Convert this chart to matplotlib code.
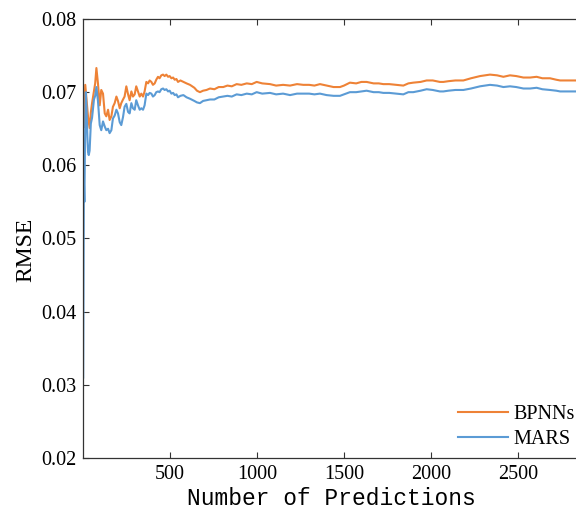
import matplotlib
matplotlib.use("Agg")
import matplotlib.pyplot as plt

# BPNNs (orange)
bp_x = [1, 6, 13, 20, 29, 38, 45, 52, 63, 70, 77, 86, 96, 105, 115, 125, 134, 144, 153, 163,
        172, 182, 192, 201, 211, 220, 230, 239, 249, 259, 268, 278, 287, 297, 306, 316, 326, 335,
        345, 354, 364, 374, 383, 393, 402, 412, 421, 431, 440, 450, 460, 469, 479, 489, 498, 508,
        518, 527, 537, 546, 560, 577, 595, 615, 640, 655, 672, 690, 710, 730, 755, 780, 806, 830,
        855, 883, 910, 941, 970, 998, 1030, 1075, 1110, 1150, 1190, 1230, 1266, 1300, 1330, 1362,
        1400, 1440, 1477, 1500, 1534, 1570, 1600, 1630, 1670, 1700, 1726, 1760, 1800, 1841, 1870,
        1898, 1940, 1975, 2010, 2051, 2071, 2100, 2140, 2186, 2230, 2282, 2310, 2339, 2380, 2416,
        2454, 2490, 2531, 2570, 2607, 2640, 2684, 2720, 2742, 2780, 2810, 2840]
bp_y = [0.0680, 0.0652, 0.0710, 0.0690, 0.0666, 0.0651, 0.0672, 0.0685, 0.0701, 0.0712, 0.0733,
        0.0712, 0.0682, 0.0703, 0.0698, 0.0671, 0.0667, 0.0676, 0.0662, 0.0667, 0.0680, 0.0685,
        0.0694, 0.0688, 0.0678, 0.0685, 0.0690, 0.0694, 0.0708, 0.0697, 0.0689, 0.0701, 0.0694,
        0.0697, 0.0708, 0.0701, 0.0694, 0.0698, 0.0694, 0.0701, 0.0714, 0.0712, 0.0716, 0.0714,
        0.0710, 0.0712, 0.0717, 0.0721, 0.0719, 0.0723, 0.0724, 0.0722, 0.0724, 0.0721, 0.0722,
        0.0719, 0.0720, 0.0717, 0.0718, 0.0714, 0.0716, 0.0714, 0.0712, 0.0710, 0.0706, 0.0702,
        0.0700, 0.0702, 0.0703, 0.0705, 0.0704, 0.0707, 0.0707, 0.0709, 0.0708, 0.0711, 0.0710,
        0.0712, 0.0711, 0.0714, 0.0712, 0.0711, 0.0709, 0.0710, 0.0709, 0.0711, 0.0710, 0.0710,
        0.0709, 0.0711, 0.0709, 0.0707, 0.0707, 0.0709, 0.0713, 0.0712, 0.0714, 0.0714, 0.0712,
        0.0712, 0.0711, 0.0711, 0.0710, 0.0709, 0.0712, 0.0713, 0.0714, 0.0716, 0.0716, 0.0714,
        0.0714, 0.0715, 0.0716, 0.0716, 0.0719, 0.0722, 0.0723, 0.0724, 0.0723, 0.0721, 0.0723,
        0.0722, 0.0720, 0.0720, 0.0721, 0.0719, 0.0719, 0.0717, 0.0716, 0.0716, 0.0716, 0.0716]

# MARS (blue)
mars_x = [1, 3, 5, 8, 10, 13, 16, 20, 25, 29, 33, 38, 45, 52, 63, 70, 77] + bp_x[11:]
mars_y = [0.0310, 0.0470, 0.0580, 0.0550, 0.0600, 0.0660, 0.0700, 0.0680, 0.0640, 0.0618,
          0.0614, 0.0620, 0.0657, 0.0665, 0.0690, 0.0695, 0.0707,
          0.0688, 0.0655, 0.0648, 0.0660, 0.0653, 0.0648, 0.0650, 0.0644, 0.0648, 0.0664, 0.0668,
          0.0676, 0.0671, 0.0659, 0.0655, 0.0666, 0.0680, 0.0684, 0.0673, 0.0671, 0.0685, 0.0678,
          0.0676, 0.0689, 0.0682, 0.0676, 0.0678, 0.0676, 0.0682, 0.0698, 0.0696, 0.0699, 0.0698,
          0.0694, 0.0696, 0.0700, 0.0701, 0.0700, 0.0704, 0.0705, 0.0703, 0.0704, 0.0701, 0.0702,
          0.0698, 0.0699, 0.0696, 0.0697, 0.0693, 0.0695, 0.0696, 0.0693, 0.0691, 0.0688, 0.0686,
          0.0685, 0.0688, 0.0689, 0.0690, 0.0690, 0.0693, 0.0694, 0.0695, 0.0694, 0.0697, 0.0696,
          0.0698, 0.0697, 0.0700, 0.0698, 0.0699, 0.0697, 0.0698, 0.0696, 0.0698, 0.0698, 0.0698,
          0.0697, 0.0698, 0.0696, 0.0695, 0.0695, 0.0697, 0.0700, 0.0700, 0.0701, 0.0702, 0.0700,
          0.0700, 0.0699, 0.0699, 0.0698, 0.0697, 0.0700, 0.0700, 0.0702, 0.0704, 0.0703, 0.0701,
          0.0701, 0.0702, 0.0703, 0.0703, 0.0705, 0.0708, 0.0709, 0.0710, 0.0709, 0.0707, 0.0708,
          0.0707, 0.0705, 0.0705, 0.0706, 0.0704, 0.0703, 0.0702, 0.0701, 0.0701, 0.0701, 0.0701]

x_ticks = [500, 1000, 1500, 2000, 2500]
y_ticks = [0.02, 0.03, 0.04, 0.05, 0.06, 0.07, 0.08]

fig = plt.figure(figsize=(5.76, 5.13), dpi=100)
ax = fig.add_axes([83 / 576, 55 / 513, 522 / 576, 439 / 513])

ax.plot(bp_x, bp_y, color="#EE8236", lw=1.5, label="BPNNs")
ax.plot(mars_x, mars_y, color="#5B9BD5", lw=1.5, label="MARS")

ax.set_xlim(0, 3000)
ax.set_ylim(0.02, 0.08)
ax.set_xticks(x_ticks)
ax.set_yticks(y_ticks)
ax.set_yticklabels([f"{v:.2f}" for v in y_ticks])
ax.tick_params(direction="in", length=4, top=True, right=False, labelsize=14.5,
               color="#333333", pad=5)
for lab in ax.get_xticklabels() + ax.get_yticklabels():
    lab.set_fontfamily("Liberation Serif")
for s in ax.spines.values():
    s.set_color("#333333")
    s.set_linewidth(0.9)

ax.set_xlabel("Number of Predictions", fontfamily="Liberation Mono", fontsize=16.5)
ax.xaxis.set_label_coords((331 - 83) / 522, -(487 - 458) / 439)
ax.set_ylabel("RMSE", fontfamily="Liberation Serif", fontsize=17)
ax.yaxis.set_label_coords(-(83 - 36) / 522, (458 - 250) / 439)

leg = ax.legend(loc="lower left", bbox_to_anchor=((458 - 83) / 522, (458 - 449) / 439),
                frameon=False, borderpad=0, borderaxespad=0,
                prop={"family": "Liberation Serif", "size": 14.5}, handlelength=2.5,
                handletextpad=0.25, labelspacing=0.3)

fig.savefig("out.png", dpi=100)
